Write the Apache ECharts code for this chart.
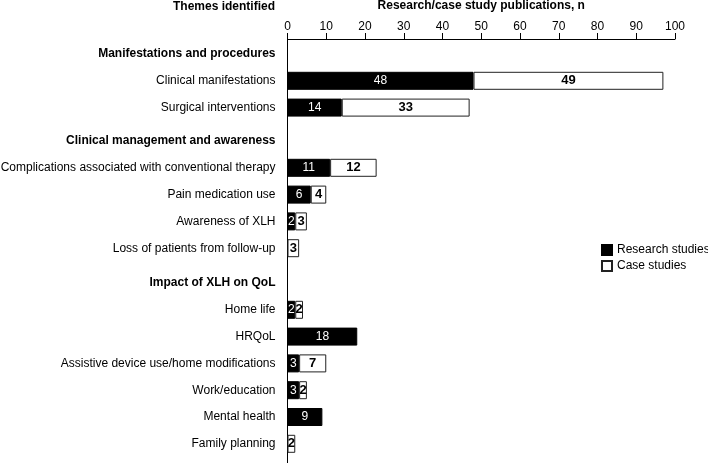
<!DOCTYPE html>
<html>
<head>
<meta charset="utf-8">
<script src="https://cdn.jsdelivr.net/npm/echarts@6/dist/echarts.min.js"></script>
<style>html,body{margin:0;padding:0;background:#fff}#chart{width:708px;height:463px}</style>
</head>
<body>
<div id="chart"></div>
<script>
// ---- data ----
const headers = ['Manifestations and procedures', 'Clinical management and awareness', 'Impact of XLH on QoL'];
const group1Items = ['Clinical manifestations', 'Surgical interventions'];
const group1Research = [48, 14];
const group1Case = [49, 33];
const group2Items = ['Complications associated with conventional therapy', 'Pain medication use', 'Awareness of XLH', 'Loss of patients from follow-up'];
const group2Research = [11, 6, 2, 0];
const group2Case = [12, 4, 3, 3];
const group3Items = ['Home life', 'HRQoL', 'Assistive device use/home modifications', 'Work/education', 'Mental health', 'Family planning'];
const group3Research = [2, 18, 3, 3, 9, 0];
const group3Case = [2, 0, 7, 2, 0, 2];
const xMin = 0, xMax = 100, xInterval = 10;
const seriesNames = ['Research studies', 'Case studies'];

// ---- layout ----
const FONT = '"Liberation Sans", Arial, sans-serif';
const LEFT = 287.5, RIGHT = 33;
const SLOT = 26.8;
const groupCenters = [54, 141, 283]; // header row centre of each group
const groups = [
  { header: headers[0], items: group1Items, research: group1Research, cases: group1Case },
  { header: headers[1], items: group2Items, research: group2Research, cases: group2Case },
  { header: headers[2], items: group3Items, research: group3Research, cases: group3Case }
];

const grids = [{ left: LEFT, right: RIGHT, top: 39, bottom: 0, outerBoundsMode: 'none', containLabel: false }];
const xAxes = [{
  gridIndex: 0, type: 'value', position: 'top', min: xMin, max: xMax, interval: xInterval,
  name: 'Research/case study publications, n', nameLocation: 'middle', nameGap: 27,
  nameTextStyle: { fontFamily: FONT, fontSize: 12, fontWeight: 'bold', color: '#000' },
  axisLine: { show: true, onZero: false, lineStyle: { color: '#000', width: 1 } },
  axisTick: { show: true, inside: false, length: 6, lineStyle: { color: '#000' } },
  axisLabel: { margin: 6, fontFamily: FONT, fontSize: 12, color: '#000' },
  splitLine: { show: false }
}];
const yAxes = [{
  gridIndex: 0, type: 'value', min: 0, max: 1, show: true,
  axisLine: { show: true, onZero: false, lineStyle: { color: '#000', width: 1 } },
  axisTick: { show: false }, axisLabel: { show: false }, splitLine: { show: false }
}];
const series = [];
const nz = v => (v === 0 ? '-' : v);

groups.forEach((g, i) => {
  const n = g.items.length + 1;
  const gi = i + 1;
  grids.push({ left: LEFT, right: RIGHT, top: groupCenters[i] - SLOT / 2, height: SLOT * n, outerBoundsMode: 'none', containLabel: false });
  xAxes.push({ gridIndex: gi, type: 'value', min: xMin, max: xMax, show: false });
  yAxes.push({
    gridIndex: gi, type: 'category', inverse: true, data: [g.header].concat(g.items),
    axisLine: { show: false }, axisTick: { show: false }, splitLine: { show: false },
    axisLabel: {
      margin: 12, fontFamily: FONT, fontSize: 12, color: '#000',
      formatter: (v, idx) => (idx === 0 ? '{h|' + v + '}' : v),
      rich: { h: { fontFamily: FONT, fontSize: 12, fontWeight: 'bold', color: '#000' } }
    }
  });
  series.push({
    name: seriesNames[0], type: 'bar', stack: 's' + gi, xAxisIndex: gi, yAxisIndex: gi,
    barWidth: 18, data: ['-'].concat(g.research.map(nz)),
    itemStyle: { color: '#000', borderColor: '#000', borderWidth: 1 },
    label: { show: true, position: 'inside', color: '#fff', fontFamily: FONT, fontSize: 12 },
    emphasis: { disabled: true }
  });
  series.push({
    name: seriesNames[1], type: 'bar', stack: 's' + gi, xAxisIndex: gi, yAxisIndex: gi,
    barWidth: 18, data: ['-'].concat(g.cases.map(nz)),
    itemStyle: { color: '#fff', borderColor: '#222', borderWidth: 1 },
    label: { show: true, position: 'inside', color: '#000', fontFamily: FONT, fontSize: 13, fontWeight: 'bold' },
    emphasis: { disabled: true }
  });
});

const chart = echarts.init(document.getElementById('chart'), null, { renderer: 'canvas' });
chart.setOption({
  animation: false,
  backgroundColor: '#fff',
  textStyle: { fontFamily: FONT },
  grid: grids,
  xAxis: xAxes,
  yAxis: yAxes,
  legend: {
    data: seriesNames, orient: 'vertical', left: 601, top: 244, padding: 0,
    icon: 'rect', itemWidth: 10, itemHeight: 10, itemGap: 4,
    textStyle: { fontFamily: FONT, fontSize: 12, color: '#000' },
    selectedMode: false
  },
  graphic: [{
    type: 'text', right: 708 - 275, top: 1,
    style: { text: 'Themes identified', fontFamily: FONT, fontSize: 12, fontWeight: 'bold', fill: '#000' }
  }],
  series: series
});
</script>
</body>
</html>
